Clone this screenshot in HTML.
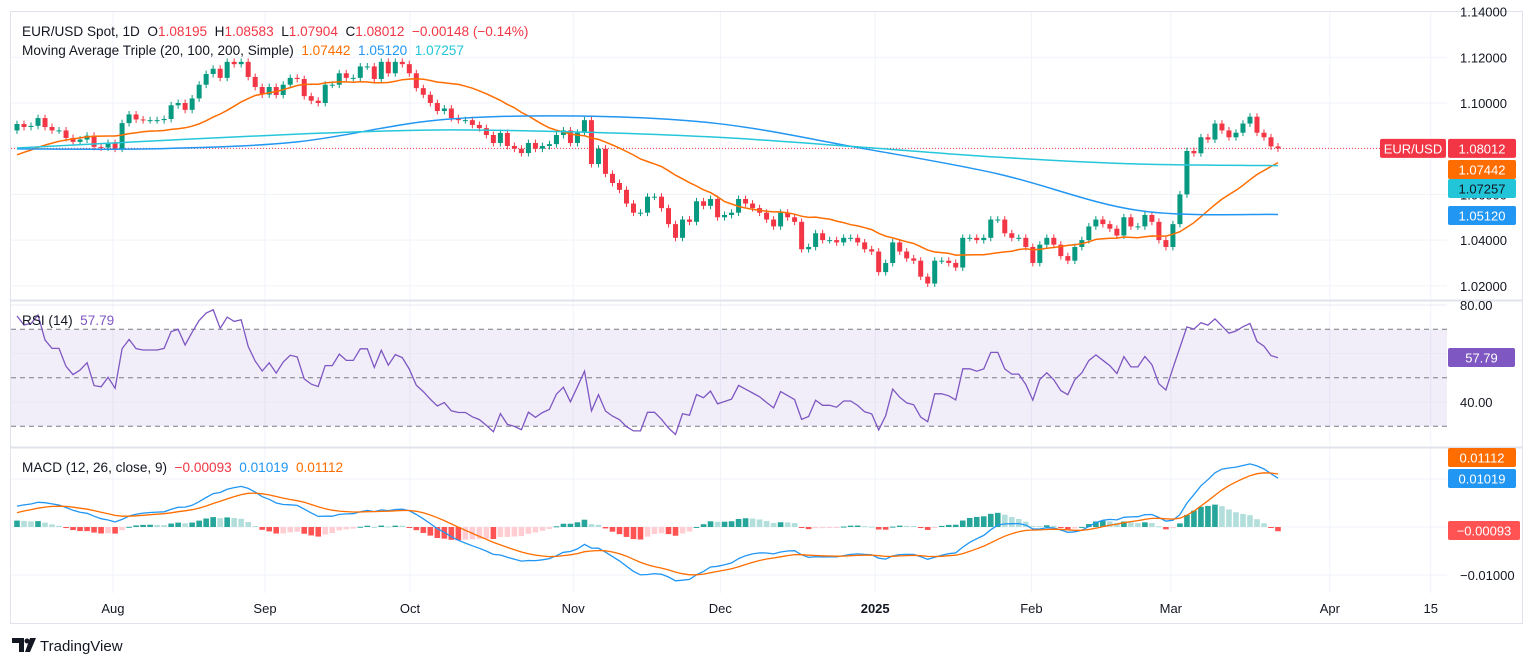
<!DOCTYPE html>
<html><head><meta charset="utf-8"><style>
html,body{margin:0;padding:0;background:#fff;}
svg{display:block;font-family:"Liberation Sans",sans-serif;}
</style></head><body>
<svg id="chart" width="1536" height="666" viewBox="0 0 1536 666" xmlns="http://www.w3.org/2000/svg">
<g id="grid"></g>
<g id="p1"></g>
<g id="p2"></g>
<g id="p3"></g>
<g id="axes"></g>
<g id="legend">
<text x="22" y="36" font-size="13.6" fill="#131722" xml:space="preserve">EUR/USD Spot, 1D  O<tspan fill="#f23645">1.08195</tspan>  H<tspan fill="#f23645">1.08583</tspan>  L<tspan fill="#f23645">1.07904</tspan>  C<tspan fill="#f23645">1.08012</tspan>  <tspan fill="#f23645">−0.00148 (−0.14%)</tspan></text>
<text x="22" y="55" font-size="13.6" fill="#131722" xml:space="preserve">Moving Average Triple (20, 100, 200, Simple)  <tspan fill="#ff6d00">1.07442</tspan>  <tspan fill="#2196f3">1.05120</tspan>  <tspan fill="#22c5d8">1.07257</tspan></text>
<text x="22" y="325" font-size="13.6" fill="#131722" xml:space="preserve">RSI (14)  <tspan fill="#7e57c2">57.79</tspan></text>
<text x="22" y="472" font-size="13.6" fill="#131722" xml:space="preserve">MACD (12, 26, close, 9)  <tspan fill="#f23645">−0.00093</tspan>  <tspan fill="#2196f3">0.01019</tspan>  <tspan fill="#ff6d00">0.01112</tspan></text>
</g>
<g id="footer">
<path d="M12 638 h12 v14 h-5 v-9 h-7 z" fill="#131722"/><circle cx="27" cy="641" r="2.5" fill="#131722"/><path d="M30 638 h6 l-6 14 h-5 z" fill="#131722"/>
<text x="40" y="651" font-size="15" fill="#131722">TradingView</text>
</g>
</svg>
<script>
const NS="http://www.w3.org/2000/svg";
const preHistory=[1.072,1.071,1.073,1.070,1.069,1.071,1.072,1.070,1.068,1.069,1.071,1.072,1.070,1.069,1.068,1.070,1.071,1.069,1.068,1.067,
1.069,1.068,1.070,1.069,1.071,1.070,1.072,1.074,1.073,1.075,1.077,1.076,1.079,1.081,1.080,1.083,1.082,1.085,1.084,1.087];
const closes=[1.0908,1.0895,1.0900,1.0934,1.0895,1.0880,1.0880,1.0847,1.0830,1.0840,1.0857,1.0808,1.0805,1.0825,1.0800,1.0912,1.0950,1.0928,1.0925,1.0925,
1.0925,1.0930,1.0990,1.1000,1.0970,1.1020,1.1080,1.1127,1.1150,1.1110,1.1180,1.1170,1.1180,1.1114,1.1070,1.1037,1.1070,1.1035,1.1080,1.1110,
1.1105,1.1030,1.1010,1.1000,1.1080,1.1080,1.1130,1.1110,1.1110,1.1160,1.1160,1.1105,1.1180,1.1130,1.1180,1.1170,1.1130,1.1065,1.1036,1.1000,1.0965,1.0976,
1.0934,1.0925,1.0925,1.0904,1.0890,1.0860,1.0825,1.0869,1.0812,1.0800,1.0781,1.0825,1.0800,1.0812,1.0820,1.0860,1.0880,1.0825,1.0870,1.0925,1.0733,1.0800,1.0690,
1.065,1.062,1.056,1.052,1.052,1.059,1.059,1.054,1.047,1.041,1.049,1.048,1.057,1.055,1.058,1.050,1.051,1.052,1.058,1.056,1.054,1.052,1.049,1.046,1.052,1.050,1.048,1.036,1.037,1.043,1.040,1.040,1.039,1.041,1.041,1.039,1.036,1.035,1.026,
1.030,1.039,1.035,1.032,1.031,1.024,1.021,1.031,1.031,1.030,1.028,1.041,1.041,1.040,1.041,1.049,1.049,1.043,1.041,1.041,1.037,1.030,1.038,1.041,1.038,1.033,1.031,1.037,1.040,1.046,1.049,1.047,1.045,1.042,1.050,1.046,1.046,1.051,1.048,1.040,1.037,1.047,1.060,1.079,1.078,1.085,1.084,1.091,1.088,1.085,1.087,1.091,1.094,1.087,1.085,1.081,1.08012];
const ma100Samples=[1.0799,1.0800,1.0830,1.0925,1.0943,1.0910,1.0805,1.0690,1.0530,1.0512];
const ma200Samples=[1.0803,1.0835,1.0864,1.0882,1.0873,1.0850,1.0808,1.0763,1.0733,1.0726];
const priceTicks=[1.14,1.12,1.10,1.08,1.06,1.04,1.02];
const rsiTicks=[80,60,40];
const macdTicks=[0.01,0,-0.01];
const months=["Aug","Sep","Oct","Nov","Dec","2025","Feb","Mar","Apr","15"];
const monthBars=[13.7,35.4,56.1,79.4,100.4,122.5,144.8,164.7,187.4,201.8];

const N=closes.length, SP=1261/(N-1);
const X=i=>17+i*SP;
const PY=p=>103-(p-1.10)/0.0004376;
const RY=v=>305+(80-v)*2.425;
const MY=v=>527-v*4800;
const PR=1447;
function el(tag,attrs,parent,name){const e=document.createElementNS(NS,tag);for(const k in attrs)e.setAttribute(k,attrs[k]);


parent.appendChild(e);return e;}
const G=document.getElementById('grid'),P1=document.getElementById('p1'),P2=document.getElementById('p2'),P3=document.getElementById('p3'),AX=document.getElementById('axes');

monthBars.forEach((b,k)=>{el('line',{x1:X(b),x2:X(b),y1:12,y2:593,stroke:'#f0f3fa'},G,'v-grid-'+months[k]);});
priceTicks.forEach(t=>{const y=PY(t);if(y>12)el('line',{x1:11,x2:PR,y1:y,y2:y,stroke:'#f0f3fa'},G,'price-grid');});
el('rect',{x:11,y:RY(70),width:PR-11,height:RY(30)-RY(70),fill:'#7e57c2','fill-opacity':0.1},G,'rsi-band');
rsiTicks.forEach(t=>el('line',{x1:11,x2:PR,y1:RY(t),y2:RY(t),stroke:'#ebe8f3'},G,'rsi-grid'));
[70,50,30].forEach(t=>el('line',{x1:11,x2:PR,y1:RY(t),y2:RY(t),stroke:'#787b86','stroke-dasharray':'5,4'},G,'rsi-level-'+t));
macdTicks.forEach(t=>el('line',{x1:11,x2:PR,y1:MY(t),y2:MY(t),stroke:'#f0f3fa'},G,'macd-grid'));
el('rect',{x:10.5,y:11.5,width:1512,height:612,fill:'none',stroke:'#e0e3eb'},G,'chart-frame');
el('line',{x1:11,x2:1523,y1:300.5,y2:300.5,stroke:'#e0e3eb','stroke-width':2},G,'pane-separator');
el('line',{x1:11,x2:1523,y1:447.5,y2:447.5,stroke:'#e0e3eb','stroke-width':2},G,'pane-separator');

const all=preHistory.concat(closes), off=preHistory.length;
function sma(n,i){let s=0,c=0;for(let k=Math.max(0,i-n+1);k<=i;k++){s+=all[k];c++;}return s/c;}
el('line',{x1:11,x2:1380,y1:PY(closes[N-1]),y2:PY(closes[N-1]),stroke:'#f23645','stroke-dasharray':'1,2'},P1,'last-price-line');
for(let i=0;i<N;i++){
  const o=i===0?1.0880:closes[i-1], c=closes[i], up=c>=o, col=up?'#089981':'#f23645';
  const hi=Math.max(o,c)+0.0015, lo=Math.min(o,c)-0.0015;
  el('line',{x1:X(i),x2:X(i),y1:PY(hi),y2:PY(lo),stroke:col},P1,'candle-wick');
  const y1=PY(Math.max(o,c)), y2=PY(Math.min(o,c));
  el('rect',{x:X(i)-2.5,y:y1,width:5,height:Math.max(1,y2-y1),fill:col},P1,'candle-body');
}
let d='';for(let i=0;i<N;i++){d+=(i?'L':'M')+X(i).toFixed(1)+' '+PY(sma(20,i+off)).toFixed(1);}
el('path',{d,fill:'none',stroke:'#ff6d00','stroke-width':1.5},P1,'ma20-line');
function smooth(samples,step,Y){const pts=samples.map((v,k)=>[X(k*step),Y(v)]);let s='M'+pts[0][0]+' '+pts[0][1];
for(let k=0;k<pts.length-1;k++){const p0=pts[Math.max(0,k-1)],p1=pts[k],p2=pts[k+1],p3=pts[Math.min(pts.length-1,k+2)];
s+=` C${p1[0]+(p2[0]-p0[0])/6} ${p1[1]+(p2[1]-p0[1])/6} ${p2[0]-(p3[0]-p1[0])/6} ${p2[1]-(p3[1]-p1[1])/6} ${p2[0]} ${p2[1]}`;}return s;}
el('path',{d:smooth(ma100Samples,20,PY),fill:'none',stroke:'#2196f3','stroke-width':1.5},P1,'ma100-line');
el('path',{d:smooth(ma200Samples,20,PY),fill:'none',stroke:'#26c6da','stroke-width':1.5},P1,'ma200-line');

const rsi=[];let ag=0,al=0;
for(let k=1;k<all.length;k++){const ch=all[k]-all[k-1],g=Math.max(ch,0),l=Math.max(-ch,0);
 if(k<=14){ag+=g/14;al+=l/14;}else{ag=(ag*13+g)/14;al=(al*13+l)/14;}
 rsi[k]=al===0?100:100-100/(1+ag/al);}
d='';for(let i=0;i<N;i++){d+=(i?'L':'M')+X(i).toFixed(1)+' '+RY(rsi[i+off]).toFixed(1);}
el('path',{d,fill:'none',stroke:'#7e57c2','stroke-width':1.3},P2,'rsi-line');

function ema(arr,n){const a=2/(n+1),out=[arr[0]];for(let k=1;k<arr.length;k++)out[k]=arr[k]*a+out[k-1]*(1-a);return out;}
const e12=ema(all,12),e26=ema(all,26),macd=all.map((_,k)=>e12[k]-e26[k]),sig=ema(macd,9),hist=macd.map((m,k)=>m-sig[k]);
for(let i=0;i<N;i++){const h=hist[i+off],hp=hist[i+off-1];
 const col=h>=0?(h>=hp?'#26a69a':'#b2dfdb'):(h<hp?'#ff5252':'#ffcdd2');
 const y=MY(Math.max(h,0)),y2=MY(Math.min(h,0));
 el('rect',{x:X(i)-2.8,y:y,width:5.6,height:Math.max(1,y2-y),fill:col},P3,'macd-histogram-bar');}
d='';let d2='';for(let i=0;i<N;i++){d+=(i?'L':'M')+X(i).toFixed(1)+' '+MY(macd[i+off]).toFixed(1);d2+=(i?'L':'M')+X(i).toFixed(1)+' '+MY(sig[i+off]).toFixed(1);}
el('path',{d,fill:'none',stroke:'#2196f3','stroke-width':1.3},P3,'macd-line');
el('path',{d:d2,fill:'none',stroke:'#ff6d00','stroke-width':1.3},P3,'signal-line');

function txt(x,y,s,name,o){const t=el('text',Object.assign({x,y,'font-size':13,fill:'#131722'},o||{}),AX,name);t.textContent=s;return t;}
priceTicks.forEach(t=>txt(1460,PY(t)+5,t.toFixed(5),'price-tick'));
rsiTicks.forEach(t=>txt(1460,RY(t)+5,t.toFixed(2),'rsi-tick'));
macdTicks.filter(t=>t!==0).forEach(t=>txt(1460,MY(t)+5,(t<0?'−':'')+Math.abs(t).toFixed(5),'macd-tick'));
months.forEach((m,k)=>txt(X(monthBars[k]),613,m,'time-tick',{'text-anchor':'middle','font-weight':m==='2025'?'bold':'normal'}));
function badge(x,y,w,txtS,bg,fg,name){el('rect',{x,y,width:w,height:19,rx:2,fill:bg},AX,name+'-bg');txt(x+w/2,y+14.5,txtS,name,{'text-anchor':'middle',fill:fg});}
const lastP=closes[N-1];
badge(1380,PY(lastP)-9.5,66,'EUR/USD','#f23645','#fff','symbol-badge');
badge(1448,PY(lastP)-9.5,68,lastP.toFixed(5),'#f23645','#fff','last-price-badge');
badge(1448,160,68,'1.07442','#ff6d00','#fff','ma20-badge');
badge(1448,179,68,'1.07257','#22c5d8','#131722','ma200-badge');
badge(1448,206,68,'1.05120','#2196f3','#fff','ma100-badge');
badge(1448,348,67,'57.79','#7e57c2','#fff','rsi-badge');
badge(1448,448,68,'0.01112','#ff6d00','#fff','signal-badge');
badge(1448,469,68,'0.01019','#2196f3','#fff','macd-badge');
badge(1448,521,72,'−0.00093','#ff5252','#fff','histogram-badge');
</script>
</body></html>
